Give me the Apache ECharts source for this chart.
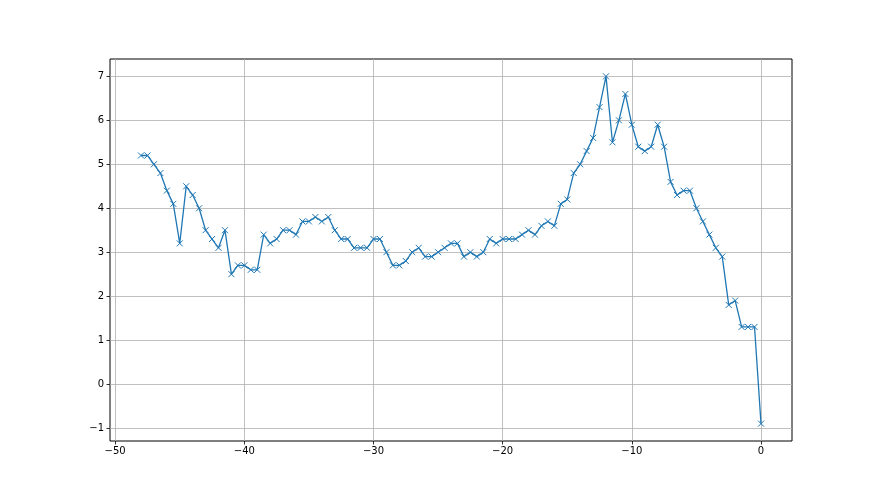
<!DOCTYPE html>
<html>
<head>
<meta charset="utf-8">
<script src="https://cdn.jsdelivr.net/npm/echarts@6/dist/echarts.min.js"></script>
<style>html,body{margin:0;padding:0;background:#fff}#c{width:880px;height:495px}</style>
</head>
<body>
<div id="c"></div>
<script>
const xStart = -48, xStep = 0.5;
const values = [5.2,5.2,5.0,4.8,4.4,4.1,3.2,4.5,4.3,4.0,3.5,3.3,3.1,3.5,2.5,2.7,2.7,2.6,2.6,3.4,3.2,3.3,3.5,3.5,3.4,3.7,3.7,3.8,3.7,3.8,3.5,3.3,3.3,3.1,3.1,3.1,3.3,3.3,3.0,2.7,2.7,2.8,3.0,3.1,2.9,2.9,3.0,3.1,3.2,3.2,2.9,3.0,2.9,3.0,3.3,3.2,3.3,3.3,3.3,3.4,3.5,3.4,3.6,3.7,3.6,4.1,4.2,4.8,5.0,5.3,5.6,6.3,7.0,5.5,6.0,6.6,5.9,5.4,5.3,5.4,5.9,5.4,4.6,4.3,4.4,4.4,4.0,3.7,3.4,3.1,2.9,1.8,1.9,1.3,1.3,1.3,-0.9];
const xTicks = [-50,-40,-30,-20,-10,0];
const yTicks = [-1,0,1,2,3,4,5,6,7];

const data = values.map((v,i)=>[xStart + i*xStep, v]);
const xs = data.map(d=>d[0]);
const xr = Math.max(...xs)-Math.min(...xs);
const yr = Math.max(...values)-Math.min(...values);
const xMin = Math.min(...xs)-0.05*xr, xMax = Math.max(...xs)+0.05*xr;
const yMin = Math.min(...values)-0.05*yr, yMax = Math.max(...values)+0.05*yr;

const font = {fontFamily:'DejaVu Sans', fontSize:10, color:'#000'};
const chart = echarts.init(document.getElementById('c'), null, {renderer:'canvas'});
chart.setOption({
  animation:false,
  grid:{left:110, right:88, top:59, bottom:54, show:true, borderColor:'#000', borderWidth:1, backgroundColor:'transparent'},
  xAxis:{type:'value', min:xMin, max:xMax,
    axisLine:{show:false, onZero:false},
    axisTick:{show:true, inside:false, length:3.5, lineStyle:{color:'#000', width:0.8}, customValues:xTicks},
    axisLabel:{...font, margin:5, customValues:xTicks, formatter:v=>String(v).replace('-','\u2212')},
    splitLine:{show:true, lineStyle:{color:'#b0b0b0', width:0.8}}},
  yAxis:{type:'value', min:yMin, max:yMax,
    axisLine:{show:false, onZero:false},
    axisTick:{show:true, inside:false, length:3.5, lineStyle:{color:'#000', width:0.8}, customValues:yTicks},
    axisLabel:{...font, margin:6, customValues:yTicks, formatter:v=>String(v).replace('-','\u2212')},
    splitLine:{show:true, lineStyle:{color:'#b0b0b0', width:0.8}}},
  series:[{type:'line', data:data, showSymbol:true,
    symbol:'path://M0,0L10,10M10,0L0,10', symbolSize:6,
    itemStyle:{color:'#1f77b4', borderColor:'#1f77b4', borderWidth:1},
    lineStyle:{color:'#1f77b4', width:1.3}}]
});
</script>
</body>
</html>
